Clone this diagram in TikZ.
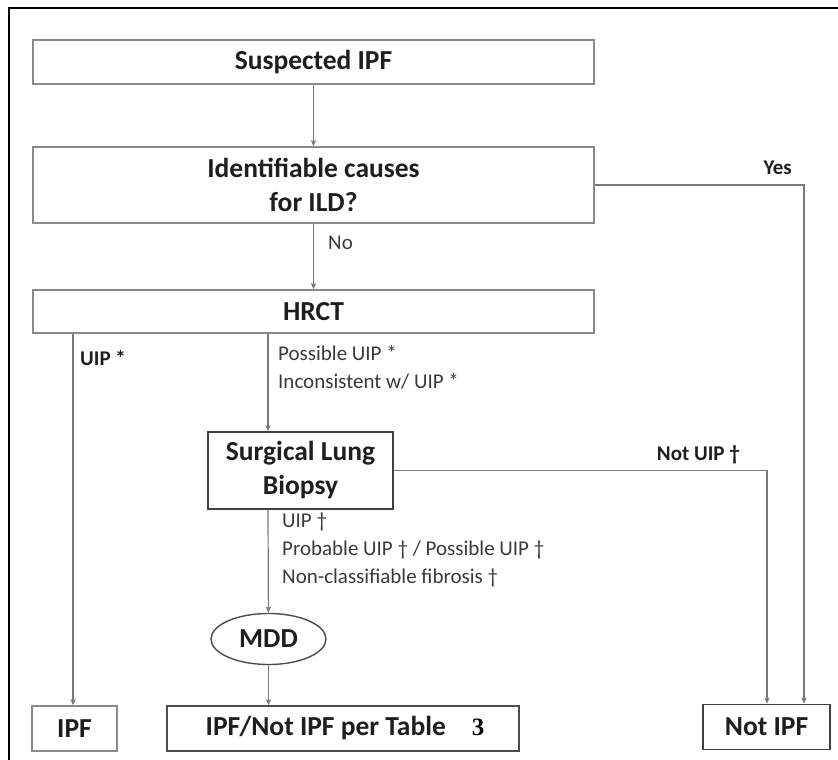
\documentclass[tikz,border=0pt]{standalone}
\usepackage{fontspec}
\setmainfont{Carlito}
\newfontfamily\serifthree{Liberation Serif}
\usetikzlibrary{shapes.geometric,arrows.meta}
\definecolor{boxgray}{HTML}{8A8A8A}
\definecolor{linegray}{HTML}{7A7A7A}
\definecolor{txtdark}{HTML}{1E1E1E}
\definecolor{lbl}{HTML}{3A3A3A}
\tikzset{
  flowbox/.style={draw=boxgray, line width=1.4pt, inner sep=0pt, align=center,
    text=txtdark, font=\fontsize{27.5}{34}\selectfont\bfseries},
  darkbox/.style={flowbox, draw=black!75},
  conn/.style={draw=linegray, line width=1.2pt},
  arr/.style={conn, -{Stealth[length=6pt,width=5pt,inset=1pt]}, color=linegray},
  lab/.style={inner sep=0pt, text=lbl, font=\fontsize{21}{28}\selectfont, align=left},
  blab/.style={lab, font=\fontsize{21}{28}\selectfont\bfseries, text=txtdark},
}
\begin{document}
\begin{tikzpicture}[x=1pt,y=-1pt]
\useasboundingbox (0,0) rectangle (838,760);
% outer frame (top and left edges visible)
\draw[black, line width=2pt] (9,760) -- (9,8) -- (838,8);

\node[flowbox, minimum width=561pt, minimum height=44pt] (S) at (313.5,62) {Suspected IPF};
\node[flowbox, minimum width=561pt, minimum height=76pt] (I) at (313.5,185) {Identifiable causes\\for ILD?};
\node[flowbox, minimum width=561pt, minimum height=43pt] (H) at (313.5,311.5) {HRCT};
\node[darkbox, minimum width=185pt, minimum height=77pt] (L) at (300.5,470.5) {Surgical Lung\\Biopsy};
\node[flowbox, ellipse, draw=black!70, minimum width=115pt, minimum height=51pt] (M) at (268.5,639) {MDD};
\node[flowbox, draw=black!70, minimum width=352pt, minimum height=45pt] (T) at (343,728.5) {\hspace*{4pt}IPF/Not IPF per Table\hspace{26pt}{\serifthree\fontsize{25}{25}\selectfont\bfseries\color{black}3}};
\node[flowbox, minimum width=85pt, minimum height=45pt] (F) at (74.5,728.5) {IPF};
\node[darkbox, minimum width=127pt, minimum height=45pt] (N) at (766.5,727) {Not IPF};

\coordinate (xc) at (268,0);
\coordinate (xu) at (73,0);
\coordinate (xy) at (804,0);
\coordinate (xn) at (767,0);

\draw[arr] (S) -- (I);
\draw[arr] (I) -- (H);
\draw[arr] (H.south -| xc) -- (L.north -| xc);
\draw[arr] (L.south -| xc) -- (M);
\draw[arr] (M) -- (T.north -| M);
\draw[arr] (H.south -| xu) -- (F.north -| xu);
\draw[arr] (I.east) -| (N.north -| xy);
\draw[arr] (L.east) -| (N.north -| xn);

\node[lab, anchor=west] (no) at (328,243) {No};
\node[blab, anchor=east] (yes) at (792,168) {Yes};
\node[blab, anchor=west] (uip) at (80,358) {UIP *};
\node[lab, anchor=north west] (pos) at (278,345) {Possible UIP *\\Inconsistent w/ UIP *};
\node[blab, anchor=east] (nu) at (740,455) {Not UIP †};
\node[lab, anchor=north west] (slbl) at (282,513) {UIP †\\Probable UIP † / Possible UIP †\\Non-classifiable fibrosis †};
\end{tikzpicture}
\end{document}
